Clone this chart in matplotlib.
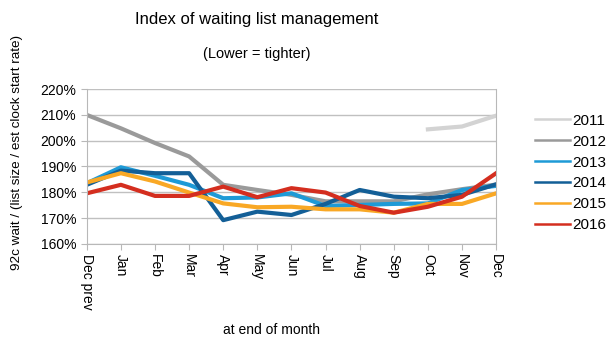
import numpy as np
import matplotlib.pyplot as plt
from matplotlib.ticker import PercentFormatter

plt.rcParams['font.family'] = ['Liberation Sans', 'DejaVu Sans']

months = ["Dec prev", "Jan", "Feb", "Mar", "Apr", "May", "Jun",
          "Jul", "Aug", "Sep", "Oct", "Nov", "Dec"]

nan = np.nan
y2011 = [nan, nan, nan, nan, nan, nan, nan, nan, nan, nan, 204.4, 205.5, 209.7]
y2012 = [210.0, 204.8, 199.1, 193.9, 182.9, 180.9, 179.0, 176.5, 176.5, 176.5, 179.2, 181.2, 183.0]
y2013 = [183.5, 189.7, 186.4, 182.9, 177.7, 178.0, 179.6, 174.7, 175.1, 175.5, 175.7, 180.9, 182.5]
y2014 = [182.9, 188.4, 187.4, 187.4, 169.2, 172.5, 171.2, 175.5, 180.9, 178.3, 177.7, 179.0, 183.1]
y2015 = [183.8, 187.4, 184.2, 179.9, 175.7, 174.2, 174.4, 173.4, 173.4, 172.1, 175.5, 175.5, 179.6]
y2016 = [179.6, 182.9, 178.6, 178.6, 182.2, 178.1, 181.6, 179.9, 174.7, 172.1, 174.4, 178.3, 187.4]

series = [("2011", y2011, "#d3d3d3"),
          ("2012", y2012, "#9a9a9a"),
          ("2013", y2013, "#1e9ad6"),
          ("2014", y2014, "#135f97"),
          ("2015", y2015, "#f9a825"),
          ("2016", y2016, "#d42e1f")]

fig = plt.figure(figsize=(6.11, 3.44), dpi=100)
ax = fig.add_axes([0.142, 0.291, 0.670, 0.450])

x = np.arange(len(months))
for name, vals, col in series:
    ax.plot(x, vals, color=col, lw=3, label=name)

ax.set_xlim(0, len(months) - 1)
ax.set_ylim(160, 220)
ax.set_yticks(np.arange(160, 221, 10))
ax.yaxis.set_major_formatter(PercentFormatter(decimals=0))
ax.set_xticks(x)
ax.set_xticklabels(months, rotation=-90, fontsize=10)
ax.tick_params(axis='y', labelsize=10, length=4, color='#b8b8b8')
ax.tick_params(axis='x', length=4, color='#b8b8b8')
ax.grid(axis='y', color='#c0c0c0', lw=1)
ax.set_axisbelow(True)
for s in ['left', 'right', 'bottom']:
    ax.spines[s].set_color('#b8b8b8')
ax.spines['top'].set_visible(False)

fig.text(0.42, 0.93, "Index of waiting list management", ha='center', fontsize=12)
fig.text(0.42, 0.83, "(Lower = tighter)", ha='center', fontsize=10.5)
fig.text(0.028, 0.558, "92c wait / (list size / est clock start rate)", rotation=90,
         va='center', ha='center', fontsize=9.7)
fig.text(0.444, 0.04, "at end of month", ha='center', va='center', fontsize=10)

leg = ax.legend(loc='center left', bbox_to_anchor=(1.095, 0.458), frameon=False,
                fontsize=11, handlelength=2.3, handletextpad=0.15,
                labelspacing=0.45, borderpad=0, borderaxespad=0)
for line in leg.get_lines():
    line.set_linewidth(1.8)

fig.savefig("out.png", dpi=100)
